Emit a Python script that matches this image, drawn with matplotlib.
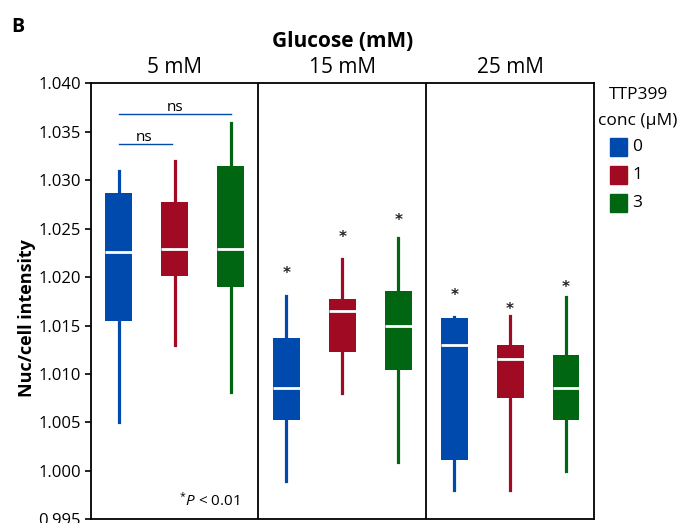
import matplotlib
matplotlib.use('Agg')
import matplotlib.pyplot as plt
import matplotlib.patches as ptc

plt.rcParams['font.family'] = ['Open Sans', 'DejaVu Sans']
plt.rcParams['mathtext.fontset'] = 'custom'
plt.rcParams['mathtext.rm'] = 'Open Sans'
plt.rcParams['mathtext.it'] = 'Open Sans:italic'

glucose = ['5 mM', '15 mM', '25 mM']
ttp_conc = ['0', '1', '3']
colors = ['#0049ad', '#a00a23', '#006611']

# whisker low, q1, median, q3, whisker high (per glucose, per TTP399 conc)
whislo = [[1.0050, 1.0130, 1.0081],
          [0.9990, 1.0080, 1.0009],
          [0.9980, 0.9980, 1.0000]]
q1 = [[1.0155, 1.0201, 1.0190],
      [1.0052, 1.0123, 1.0104],
      [1.0011, 1.0075, 1.0052]]
med = [[1.0226, 1.0229, 1.0229],
       [1.0085, 1.0165, 1.0150],
       [1.0130, 1.0115, 1.0086]]
q3 = [[1.0287, 1.0278, 1.0315],
      [1.0137, 1.0177, 1.0186],
      [1.0158, 1.0130, 1.0120]]
whishi = [[1.0310, 1.0320, 1.0359],
          [1.0180, 1.0219, 1.0240],
          [1.0159, 1.0160, 1.0179]]
# height of significance asterisks (None = not marked)
star_y = [[None, None, None],
          [1.0204, 1.0241, 1.0258],
          [1.0181, 1.0167, 1.0189]]

fig = plt.figure(figsize=(6.81, 5.23), dpi=100)
ax = fig.add_axes([0.1332, 0.0071, 0.7390, 0.8336])

stats = []
positions = []
box_colors = []
for g in range(3):
    for c in range(3):
        stats.append(dict(whislo=whislo[g][c], q1=q1[g][c], med=med[g][c],
                          q3=q3[g][c], whishi=whishi[g][c]))
        positions.append(3 * g + c + 0.5)
        box_colors.append(colors[c])

bp = ax.bxp(stats, positions=positions, widths=0.48, showfliers=False,
            showcaps=False, patch_artist=True,
            medianprops=dict(color='white', lw=2),
            boxprops=dict(lw=0))
for i, col in enumerate(box_colors):
    bp['boxes'][i].set_facecolor(col)
    bp['boxes'][i].set_edgecolor(col)
    for w in bp['whiskers'][2 * i:2 * i + 2]:
        w.set_color(col)
        w.set_linewidth(2.3)
        w.set_zorder(1)

for g in range(3):
    for c in range(3):
        if star_y[g][c] is not None:
            ax.text(3 * g + c + 0.5, star_y[g][c], '*', ha='center',
                    va='center', fontsize=11, fontweight='bold',
                    family='DejaVu Sans', color='#222222')

ax.set_xlim(0, 9)
ax.set_ylim(0.995, 1.040)
ax.set_yticks([0.995 + 0.005 * i for i in range(10)])
ax.set_yticklabels(['%.3f' % (0.995 + 0.005 * i) for i in range(10)],
                   fontsize=12)
ax.set_xticks([])
ax.tick_params(axis='y', direction='out', length=4, width=1.2, pad=3)
for sp in ax.spines.values():
    sp.set_linewidth(1.3)
ax.axvline(3, color='k', lw=1.3)
ax.axvline(6, color='k', lw=1.3)
ax.set_ylabel('Nuc/cell intensity', fontsize=13, fontweight='bold')
ax.yaxis.set_label_coords(-0.108, 0.462)

# ns brackets
ax.plot([0.5, 2.5], [1.0368, 1.0368], color='#0049ad', lw=1)
ax.plot([0.5, 1.45], [1.0337, 1.0337], color='#0049ad', lw=1)
ax.text(1.5, 1.0367, 'ns', ha='center', va='bottom', fontsize=11)
ax.text(0.95, 1.0336, 'ns', ha='center', va='bottom', fontsize=11)

ax.text(2.67, 0.9969, r'$^{*}\mathit{P}$ < 0.01', ha='right', va='center',
        fontsize=11)

for g, lab in enumerate(glucose):
    ax.text(3 * g + 1.5, 1.0405, lab, ha='center', va='bottom',
            fontsize=15)
fig.text(0.503, 0.921, 'Glucose (mM)', ha='center', va='center',
         fontsize=15, fontweight='bold')
fig.text(0.016, 0.948, 'B', ha='left', va='center', fontsize=14,
         fontweight='bold')

fig.text(0.937, 0.818, 'TTP399', ha='center', va='center', fontsize=12.5)
fig.text(0.937, 0.768, 'conc (\u03bcM)', ha='center', va='center',
         fontsize=12.5)
for c, lab in enumerate(ttp_conc):
    yb = 1 - (156 + 28 * c) / 523
    fig.patches.append(ptc.Rectangle((610 / 681, yb), 17 / 681, 18 / 523,
                                     transform=fig.transFigure,
                                     color=colors[c]))
    fig.text(632 / 681, yb + 9 / 523, lab, ha='left', va='center',
             fontsize=12.5)

fig.savefig('out.png', dpi=100)
